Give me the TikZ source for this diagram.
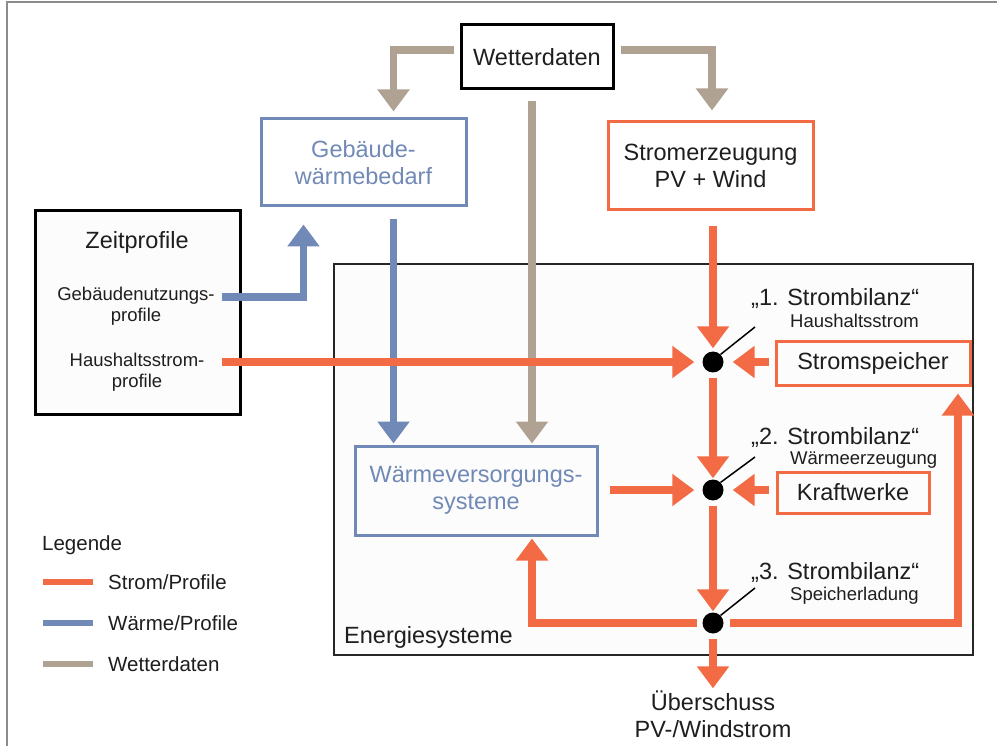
\documentclass[tikz,border=0pt]{standalone}
\usepackage{fontspec}
\setmainfont{Liberation Sans}
\usetikzlibrary{arrows.meta,calc,positioning}
\definecolor{stromc}{HTML}{F36B44}
\definecolor{waermec}{HTML}{7189B6}
\definecolor{wetterc}{HTML}{B0A292}
\definecolor{framec}{HTML}{8C8C8C}
\definecolor{textc}{HTML}{1E1E1E}

\begin{document}
\begin{tikzpicture}[x=1pt,y=-1pt,>={Triangle[width=31pt,length=22pt]},
 big/.style={font=\fontsize{23.5}{27}\selectfont,align=center,text=textc,inner sep=0pt},
 small/.style={font=\fontsize{18.5}{21}\selectfont,align=center,text=textc,inner sep=0pt},
 box/.style={draw,line width=3pt,big},
 dot/.style={circle,fill=black,inner sep=0pt,minimum size=21pt},
 stromline/.style={stromc,line width=7.5pt,->},
 waermeline/.style={waermec,line width=7.5pt,->},
 wetterline/.style={wetterc,line width=7.5pt,->},
 leader/.style={black,line width=1.5pt}]
 \useasboundingbox (0,0) rectangle (997,746);
 \draw[framec,line width=2pt](7,746)--(7,2)--(997,2);
 % Boxen
 \node[draw=black!85,line width=2pt,fill=black!1,minimum width=639pt,minimum height=391pt,inner sep=0pt](energie)at(653.5,459.5){};
 \node[big,anchor=west](energietxt)at(344,637){Energiesysteme};
 \node[box,draw=black,minimum width=152pt,minimum height=64pt](wetter)at(537,57){Wetterdaten};
 \node[box,draw=waermec,text=waermec,minimum width=205pt,minimum height=87pt](gebaeude)at(363.5,162.5){Geb\"aude-\\w\"armebedarf};
 \node[box,draw=stromc,minimum width=205pt,minimum height=88pt](strom)at(710.5,166){Stromerzeugung\\PV + Wind};
 \node[box,draw=black,fill=black!1,minimum width=205pt,minimum height=203pt](zeit)at(137.5,312.5){};
 \node[big](zeittitel)at(137,242){Zeitprofile};
 \node[small](gnp)at(136,306){Geb\"audenutzungs-\\profile};
 \node[small](hsp)at(137,372){Haushaltsstrom-\\profile};
 \node[box,draw=waermec,text=waermec,minimum width=242pt,minimum height=89pt](waerme)at(476,490.5){W\"armeversorgungs-\\systeme};
 \node[box,draw=stromc,minimum width=194pt,minimum height=43pt](speicher)at(873,363.5){Stromspeicher};
 \node[box,draw=stromc,minimum width=152pt,minimum height=41pt](kraft)at(853,492.5){Kraftwerke};
 \node[big](ueber)at(713,714){\"Uberschuss\\PV-/Windstrom};
 % Strombilanzen
 \node[dot](b1)at(713,362){};
 \node[dot](b2)at(713,490){};
 \node[dot](b3)at(713,623){};
 \node[big,anchor=west](sb1)at(751,298){„1. Strombilanz“};
 \node[small,anchor=west](sb1sub)at(790,321){Haushaltsstrom};
 \node[big,anchor=west](sb2)at(751,437){„2. Strombilanz“};
 \node[small,anchor=west](sb2sub)at(790,460){W\"armeerzeugung};
 \node[big,anchor=west](sb3)at(751,572){„3. Strombilanz“};
 \node[small,anchor=west](sb3sub)at(790,596){Speicherladung};
 \coordinate(l1)at(755,327);\coordinate(l2)at(755,457);\coordinate(l3)at(755,588);
 \draw[leader](b1.45)--(l1);\draw[leader](b2.45)--(l2);\draw[leader](b3.45)--(l3);
 % Wetterdaten
 \coordinate(wmid)at([xshift=-5pt]wetter.south);
 \draw[wetterline,shorten <=6pt,shorten >=6pt]([yshift=7pt]wetter.west)-|([xshift=30pt]gebaeude.north);
 \draw[wetterline,shorten <=6pt,shorten >=10pt]([yshift=7pt]wetter.east)-|([xshift=1.5pt]strom.north);
 \draw[wetterline,shorten <=11pt,shorten >=1pt](wmid)--(wmid |- waerme.north);
 % Waerme
 \coordinate(gbout)at([xshift=30pt]gebaeude.south);
 \coordinate(gnout)at(222,297);
 \draw[waermeline,shorten <=12pt,shorten >=1pt](gbout)--(gbout |- waerme.north);
 \draw[waermeline,shorten >=17pt](gnout)-|([xshift=-60pt]gebaeude.south);
 % Strom
 \coordinate(hsout)at(222,362);
 \draw[stromline,shorten >=8pt](hsout)--(b1);
 \draw[stromline,shorten <=15pt,shorten >=3pt](strom.south -| b1)--(b1);
 \draw[stromline,shorten <=6pt,shorten >=9pt](speicher.west |- b1)--(b1);
 \draw[stromline,shorten <=5pt,shorten >=1pt](b1)--(b2);
 \draw[stromline,shorten <=11pt,shorten >=8pt](waerme.east |- b2)--(b2);
 \draw[stromline,shorten <=7pt,shorten >=9pt](kraft.west |- b2)--(b2);
 \draw[stromline,shorten <=5pt,shorten >=1pt](b2)--(b3);
 \draw[stromline,shorten <=5pt,shorten >=2pt](b3)-|([xshift=56pt]waerme.south);
 \draw[stromline,shorten <=6pt,shorten >=7pt](b3)-|([xshift=85pt]speicher.south);
 \draw[stromline,shorten <=5pt,shorten >=2pt](b3)--(b3 |- ueber.north);
 % Legende
 \node[font=\fontsize{20.5}{24}\selectfont,text=textc,inner sep=0pt,anchor=west](legende)at(42,545){Legende};
 \foreach \y/\c/\t [count=\i] in {582/stromc/Strom\slash Profile,623/waermec/W\"arme\slash Profile,664/wetterc/Wetterdaten}{
  \node[font=\fontsize{20.5}{24}\selectfont,text=textc,inner sep=0pt,anchor=west](leg\i)at(108,\y){\t};
  \draw[\c,line width=6pt]([xshift=-15pt]leg\i.west)--++(-50pt,0);
 }
\end{tikzpicture}
\end{document}
